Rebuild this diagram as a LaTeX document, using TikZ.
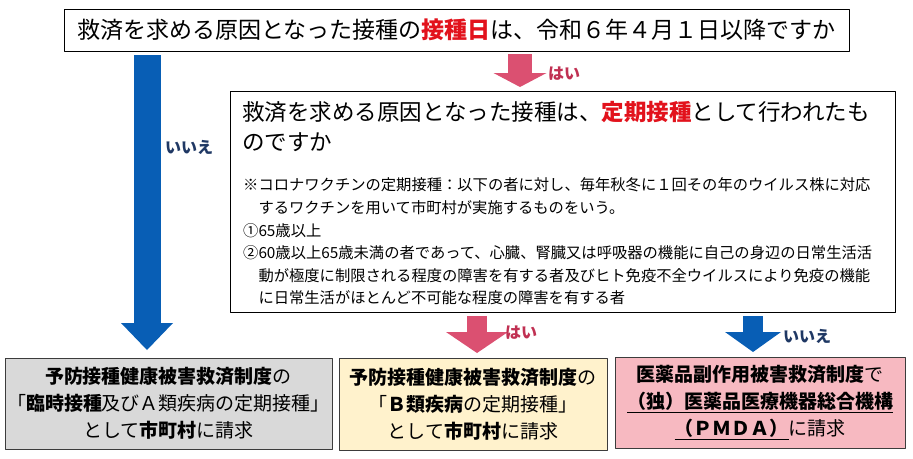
\documentclass[tikz,border=0pt]{standalone}
\usepackage{fontspec}
\setmainfont{Noto Sans CJK JP}
\usetikzlibrary{arrows.meta}
\definecolor{arrowblue}{RGB}{8,94,181}
\definecolor{arrowpink}{RGB}{219,80,113}
\definecolor{labelnavy}{RGB}{31,56,100}
\definecolor{labelpink}{RGB}{192,48,82}
\definecolor{keyred}{RGB}{226,18,28}
\definecolor{grayfill}{RGB}{217,217,217}
\definecolor{yellowfill}{RGB}{255,242,204}
\definecolor{pinkfill}{RGB}{247,185,193}
\definecolor{boxline}{RGB}{60,60,60}
\begin{document}
\begin{tikzpicture}[x=1pt,y=-1pt,line join=round,
    qbox/.style={draw=black,line width=1pt,fill=white,inner sep=0pt},
    ansbox/.style={draw=boxline,line width=1pt,inner sep=0pt,align=center,
      font=\fontsize{19}{27}\selectfont},
    fatarrow/.style n args={3}{line width=#1,-{Triangle[width=#2,length=#3,line width=0pt]}},
    yeslabel/.style={text=labelpink,font=\fontsize{16}{16}\selectfont\bfseries,inner sep=0pt,outer sep=0pt},
    nolabel/.style={text=labelnavy,font=\fontsize{16}{16}\selectfont\bfseries,inner sep=0pt,outer sep=0pt},
    notetext/.style={anchor=west,inner sep=0pt,font=\fontsize{15.3}{15.3}\selectfont}]
  \useasboundingbox (0,0) rectangle (913,458);

  % questions
  \node[qbox,minimum width=785pt,minimum height=42pt,font=\fontsize{23}{23}\selectfont]
    (q1) at (456.5,30) {救済を求める原因となった接種の{\bfseries\color{keyred}接種日}は、令和６年４月１日以降ですか};
  \node[qbox,minimum width=665pt,minimum height=221pt] (q2) at (562.5,201.5) {};
  \node[anchor=west,inner sep=0pt,font=\fontsize{22.5}{22.5}\selectfont] (t1) at (242,112)
    {救済を求める原因となった接種は、{\bfseries\color{keyred}定期接種}として行われたも};
  \node[anchor=west,inner sep=0pt,font=\fontsize{22.5}{22.5}\selectfont] (t2) at (242,142) {のですか};
  \foreach \txt [count=\i from 0] in {%
      ※コロナワクチンの定期接種：以下の者に対し、毎年秋冬に１回その年のウイルス株に対応,
      \hspace*{1em}するワクチンを用いて市町村が実施するものをいう。,
      ①65歳以上,
      ②60歳以上65歳未満の者であって、心臓、腎臓又は呼吸器の機能に自己の身辺の日常生活活,
      \hspace*{1em}動が極度に制限される程度の障害を有する者及びヒト免疫不全ウイルスにより免疫の機能,
      \hspace*{1em}に日常生活がほとんど不可能な程度の障害を有する者}
    \node[notetext] (n\i) at (243,{185+22.6*\i}) {\txt};

  % answers
  \node[ansbox,fill=grayfill,minimum width=327pt,minimum height=91pt] (a1) at (168.5,403.5)
    {{\bfseries 予防接種健康被害救済制度}の\\「{\bfseries 臨時接種}及びＡ類疾病の定期接種」\\として{\bfseries 市町村}に請求};
  \node[ansbox,fill=yellowfill,minimum width=268pt,minimum height=92pt] (a2) at (473,404)
    {{\bfseries 予防接種健康被害救済制度}の\\「{\bfseries Ｂ類疾病}の定期接種」\\として{\bfseries 市町村}に請求};
  \node[ansbox,fill=pinkfill,minimum width=290pt,minimum height=91pt] (a3) at (760,402.5)
    {{\bfseries 医薬品副作用被害救済制度}で\\\underline{\bfseries （独）医薬品医療機器総合機構}\\\underline{\bfseries （ＰＭＤＡ）}に請求};

  % arrows
  \coordinate (s1) at (147,55);  \coordinate (e1) at (147,350);
  \coordinate (s2) at (520,54);  \coordinate (e2) at (520,87);
  \coordinate (s3) at (477,316); \coordinate (e3) at (477,353);
  \coordinate (s4) at (753,316); \coordinate (e4) at (753,352);
  \draw[arrowblue,fatarrow={27pt}{52pt}{27pt}] (s1) -- (e1)
    node[nolabel,pos=0.315,right=18pt] (l1) {いいえ};
  \draw[arrowpink,fatarrow={24pt}{53pt}{14pt}] (s2) -- (e2)
    node[yeslabel,pos=0.58,right=28pt] (l2) {はい};
  \draw[arrowpink,fatarrow={20pt}{62pt}{21pt}] (s3) -- (e3)
    node[yeslabel,pos=0.46,right=28pt] (l3) {はい};
  \draw[arrowblue,fatarrow={20pt}{56pt}{20pt}] (s4) -- (e4)
    node[nolabel,pos=0.58,right=30pt] (l4) {いいえ};
\end{tikzpicture}
\end{document}
